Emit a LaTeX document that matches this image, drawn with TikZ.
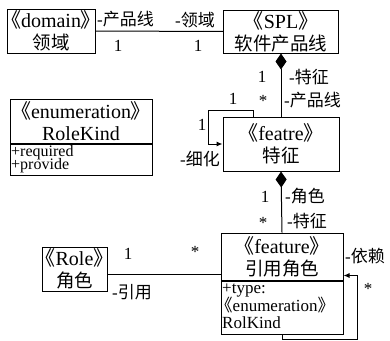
\documentclass[tikz,border=0pt]{standalone}
\usepackage{fontspec}
\setmainfont{Liberation Serif}
\newfontfamily\cjk{Noto Sans CJK SC}
\newfontfamily\cjkh[RawFeature=+halt]{Noto Sans CJK SC}
\usetikzlibrary{arrows.meta,calc}
\newcommand\lgq{{\cjkh 《}}
\newcommand\rgq{{\cjkh 》}}
\newcommand\tfont{\fontsize{20}{22}\selectfont}
\newcommand\lfont{\fontsize{17}{20}\selectfont}
\newcommand\zh[1]{{\cjk\fontsize{18.5}{22}\selectfont #1}}
\newcommand\zl[1]{{\cjk #1}}
\tikzset{
  box/.style={draw, line width=1pt, inner sep=0pt, align=center, font=\tfont},
  lbl/.style={inner sep=0pt, font=\lfont},
  attr/.style={inner sep=0pt, anchor=base west, font=\fontsize{16}{14}\selectfont},
  link/.style={line width=1pt},
  loopar/.style={line width=1pt, -{Latex[length=6pt,width=5pt]}},
  comp/.style={{Diamond[length=16pt,width=11pt]}-, line width=1pt},
}
\begin{document}
\begin{tikzpicture}[x=1pt,y=-1pt]
\useasboundingbox (0,0) rectangle (390,340);
% boxes
\node[box, minimum width=88, minimum height=44] (domain) at (51,31) {\lgq domain\rgq\\\zh{领域}};
\node[box, minimum width=115, minimum height=43] (spl) at (281,31.5) {\lgq SPL\rgq\\\zh{软件产品线}};
\node[box, minimum width=116, minimum height=54] (featre) at (281,144) {\lgq featre\rgq\\\zh{特征}};
\node[box, minimum width=142, minimum height=44] (enumh) at (81,121) {\lgq enumeration\rgq\\RoleKind};
\node[box, minimum width=142, minimum height=31, anchor=north] (enuma) at (enumh.south) {};
\node[attr] (req) at (11,156) {+required};
\node[attr] (prov) at (11,169.5) {+provide};
\node[box, minimum width=122, minimum height=47] (feature) at (282,256.5) {\lgq feature\rgq\\\zh{引用角色}};
\node[box, minimum width=122, minimum height=53, anchor=north] (feata) at (feature.south) {};
\node[attr, font=\fontsize{17}{18}\selectfont] (ty) at (222,293.5) {+type:};
\node[attr, font=\fontsize{17}{18}\selectfont] (en) at (224,311) {\lgq enumeration\rgq};
\node[attr, font=\fontsize{17}{18}\selectfont] (rk) at (222,328.5) {RolKind};
\node[box, minimum width=65, minimum height=44] (role) at (74.5,269) {\lgq Role\rgq\\\zh{角色}};
% connectors
\draw[link] (domain.east) -- (spl.west);
\draw[comp] (spl.south) -- (featre.north);
\draw[comp] (featre.south) -- (feature.north);
\draw[loopar] ($(featre.north west)+(31,0)$) |- ($(featre.north west)+(-14,-6)$) |- (featre.west);
\draw[loopar] (feata.south) -- ++(0,5) -| ($(feature.north east)+(14,43)$) -- ($(feature.north east)+(0,43)$);
\coordinate (rl) at ($(role.north east)+(0,28)$);
\draw[link] (rl) -- (rl -| feature.west);
% labels
\node[lbl, anchor=west] (l1) at (97,19) {-\zl{产品线}};
\node[lbl, anchor=west] (l2) at (175,20) {-\zl{领域}};
\node[lbl] (l3) at (118,46) {1};
\node[lbl] (l4) at (198,46) {1};
\node[lbl] (l5) at (262,77) {1};
\node[lbl, anchor=west] (l6) at (289,77) {-\zl{特征}};
\node[lbl] (l7) at (263,101) {*};
\node[lbl, anchor=west] (l8) at (284,100) {-\zl{产品线}};
\node[lbl] (l9) at (233,99) {1};
\node[lbl] (l10) at (202,125) {1};
\node[lbl, anchor=east] (l11) at (220,159) {-\zl{细化}};
\node[lbl] (l12) at (265,197) {1};
\node[lbl, anchor=west] (l13) at (285,196) {-\zl{角色}};
\node[lbl] (l14) at (263,223) {*};
\node[lbl, anchor=west] (l15) at (287,221) {-\zl{特征}};
\node[lbl] (l16) at (195,252) {*};
\node[lbl, anchor=west] (l17) at (345,256) {-\zl{依赖}};
\node[lbl] (l18) at (368,289) {*};
\node[lbl] (l19) at (128,254) {1};
\node[lbl, anchor=west] (l20) at (112,292) {-\zl{引用}};
\end{tikzpicture}
\end{document}
